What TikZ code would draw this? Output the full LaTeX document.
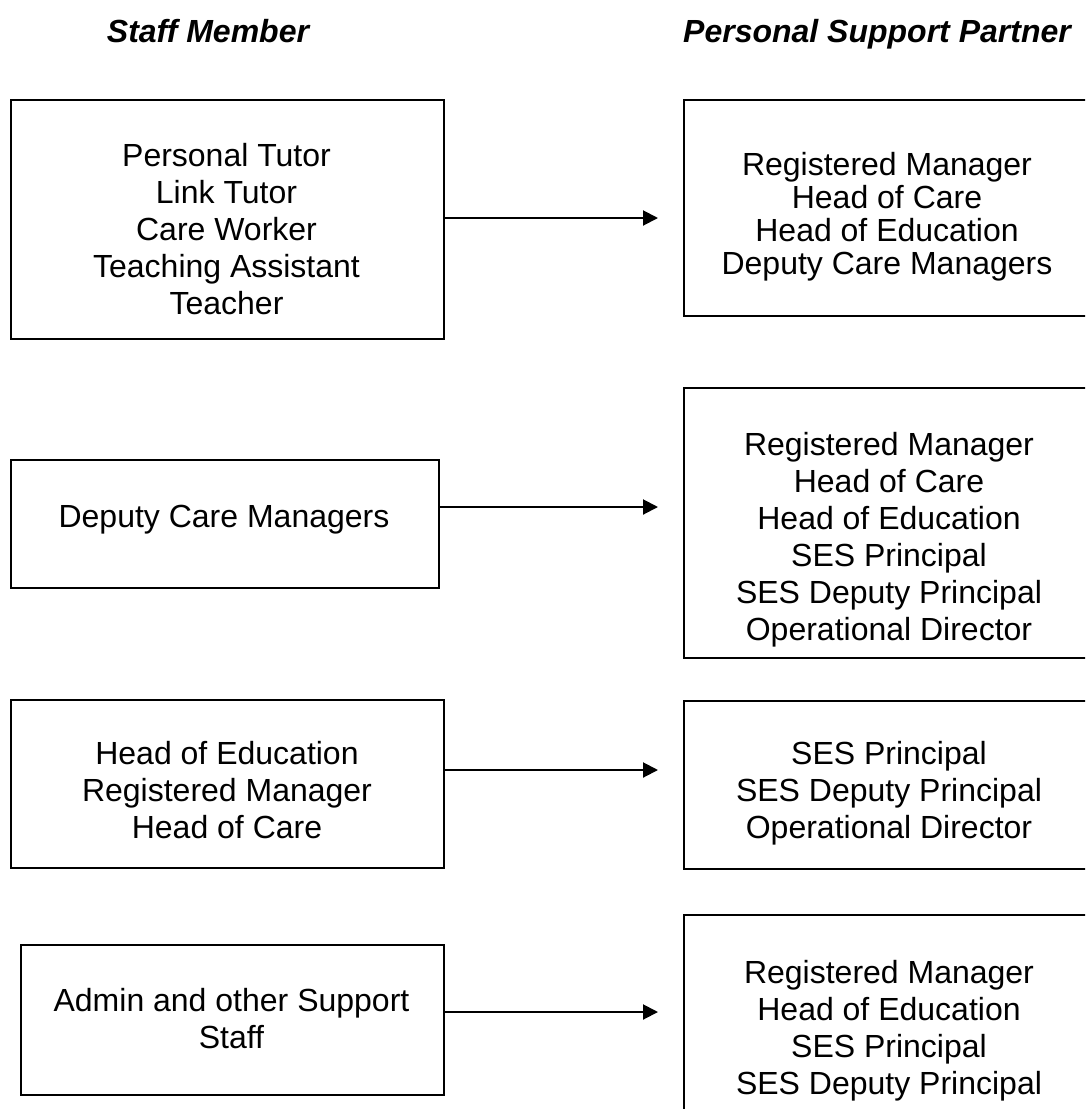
\documentclass[tikz,border=0pt]{standalone}
\usepackage{fontspec}
\setmainfont{Liberation Sans}
\usetikzlibrary{arrows.meta}

\tikzset{
  box/.style={draw, line width=2pt, inner sep=0pt, anchor=north west},
  roles/.style={align=center, anchor=north, inner sep=0pt, font=\fontsize{32}{37}\selectfont},
  heading/.style={anchor=base, inner sep=0pt, font=\fontsize{32}{37}\selectfont\bfseries\itshape},
  link/.style={-{Triangle[length=15pt,width=15pt]}, line width=2pt, shorten >=25pt}
}

\begin{document}
\begin{tikzpicture}[x=1pt, y=-1pt]
  \useasboundingbox (0,0) rectangle (1085,1109);
  \clip (0,0) rectangle (1085,1109);

  % Column headings
  \node[heading] (hstaff) at (208,42) {Staff Member};
  \node[heading] (hpartner) at (877,42) {Personal Support Partner};

  % Staff member boxes
  \node[box, minimum width=433pt, minimum height=239pt] (s1) at (10,99) {};
  \node[box, minimum width=428pt, minimum height=128pt] (s2) at (10,459) {};
  \node[box, minimum width=433pt, minimum height=168pt] (s3) at (10,699) {};
  \node[box, minimum width=423pt, minimum height=150pt] (s4) at (20,944) {};

  % Support partner boxes (run off the right edge)
  \node[box, minimum width=408pt, minimum height=216pt] (p1) at (683,99) {};
  \node[box, minimum width=408pt, minimum height=270pt] (p2) at (683,387) {};
  \node[box, minimum width=408pt, minimum height=168pt] (p3) at (683,700) {};
  \node[box, minimum width=408pt, minimum height=230pt] (p4) at (683,914) {};

  % Box texts
  \node[roles] (ts1) at (226.5,143) {Personal Tutor\\Link Tutor\\Care Worker\\Teaching Assistant\\Teacher};
  \node[roles] (ts2) at (224,505) {Deputy Care Managers};
  \node[roles] (ts3) at (227,741) {Head of Education\\Registered Manager\\Head of Care};
  \node[roles] (ts4) at (231.5,988) {Admin and other Support\\Staff};

  \node[roles, font=\fontsize{32}{33}\selectfont] (tp1) at (887,152) {Registered Manager\\Head of Care\\Head of Education\\Deputy Care Managers};
  \node[roles] (tp2) at (889,432) {Registered Manager\\Head of Care\\Head of Education\\SES Principal\\SES Deputy Principal\\Operational Director};
  \node[roles] (tp3) at (889,741) {SES Principal\\SES Deputy Principal\\Operational Director};
  \node[roles] (tp4) at (889,960) {Registered Manager\\Head of Education\\SES Principal\\SES Deputy Principal};

  % Arrows
  \coordinate (a1) at (0,218);
  \coordinate (a2) at (0,507);
  \coordinate (a3) at (0,770);
  \coordinate (a4) at (0,1012);
  \foreach \i in {1,...,4}
    \draw[link] (s\i.east |- a\i) -- (p\i.west |- a\i);
\end{tikzpicture}
\end{document}
